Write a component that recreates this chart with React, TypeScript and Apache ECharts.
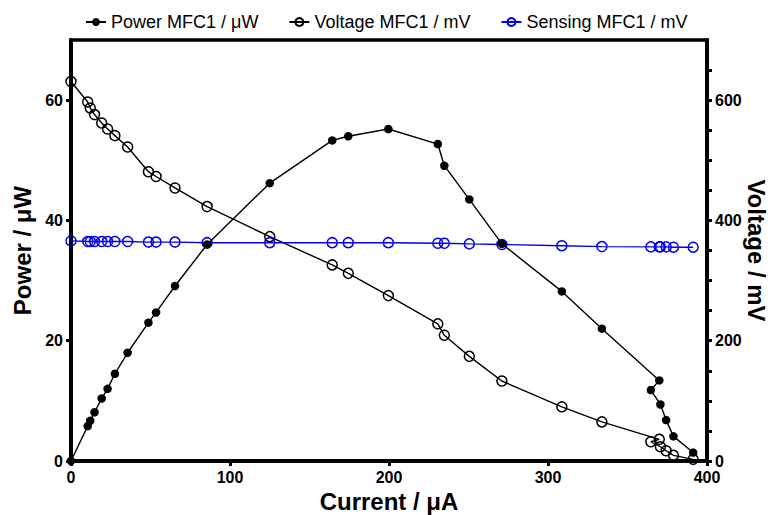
import React, { useEffect, useRef } from "react";
import * as echarts from "echarts";

const current = [0, 10.5, 12.1, 14.8, 19.3, 23.0, 27.6, 35.6, 48.7, 53.5, 65.4, 85.6, 125.0, 164.3, 174.4, 199.6, 230.7, 234.8, 250.5, 271.0, 308.7, 333.9, 370.0, 364.7, 370.7, 374.3, 378.9, 391.3];
const powerMFC1 = [0, 5.8, 6.7, 8.1, 10.4, 12.0, 14.5, 18.0, 23.0, 24.7, 29.1, 36.0, 46.2, 53.3, 54.0, 55.2, 52.7, 49.1, 43.5, 36.1, 28.2, 22.0, 13.4, 11.8, 9.4, 6.8, 4.1, 1.4];
const voltageMFC1 = [631, 597, 587, 576, 562, 552, 541, 522, 481, 473, 454, 423, 373, 326, 312, 275, 228, 209, 174, 133, 90, 65, 36, 32, 23.7, 17, 9.4, 2.8];
const sensingMFC1 = [366, 365, 365, 365, 365, 365, 365, 365, 364, 364, 364, 363, 363, 363, 363, 363, 362, 362, 361, 360, 358, 356.5, 356, 356, 356, 356, 355.5, 355.5];

const xTicks = [0, 100, 200, 300, 400];
const leftTicks = [0, 20, 40, 60];
const rightTicks = [0, 50, 100, 150, 200, 250, 300, 350, 400, 450, 500, 550, 600, 650];
const rightLabels = [0, 200, 400, 600];

const FONT = "'Liberation Sans', Arial, sans-serif";

export default function App() {
  const ref = useRef<HTMLDivElement>(null);
  useEffect(() => {
    if (!ref.current) return;
    const chart = echarts.init(ref.current, null, { renderer: "svg" });
    const pair = (ys: number[]) => current.map((x, i) => [x, ys[i]]);
    const labelStyle = { color: "#000", fontFamily: FONT, fontWeight: "bold" as const, fontSize: 16 };
    const nameStyle = { color: "#000", fontFamily: FONT, fontWeight: "bold" as const, fontSize: 24 };
    chart.setOption({
      animation: false,
      backgroundColor: "#fff",
      legend: {
        top: 8,
        left: 80,
        itemGap: 30,
        itemWidth: 20,
        itemHeight: 10,
        textStyle: { color: "#000", fontFamily: FONT, fontSize: 18 },
        data: ["Power MFC1 / μW", "Voltage MFC1 / mV", "Sensing MFC1 / mV"],
      },
      grid: {
        left: 71,
        right: 66,
        top: 40,
        bottom: 54,
        show: true,
        borderColor: "#000",
        borderWidth: 3.5,
        containLabel: false,
        outerBoundsMode: "none",
      },
      xAxis: {
        type: "value",
        min: 0,
        max: 400,
        interval: 100,
        name: "Current / μA",
        nameLocation: "middle",
        nameGap: 24,
        nameTextStyle: { ...nameStyle, verticalAlign: "top" },
        axisLine: { show: true, lineStyle: { color: "#000", width: 4 } },
        axisTick: { show: true, length: 5, lineStyle: { color: "#000", width: 3 }, customValues: xTicks },
        axisLabel: { ...labelStyle, margin: 8, customValues: xTicks },
        splitLine: { show: false },
      },
      yAxis: [
        {
          type: "value",
          min: 0,
          max: 70,
          name: "Power / μW",
          nameLocation: "middle",
          nameGap: 35,
          nameTextStyle: nameStyle,
          axisLine: { show: true, lineStyle: { color: "#000", width: 4 } },
          axisTick: { show: true, length: 5, lineStyle: { color: "#000", width: 3 }, customValues: leftTicks },
          axisLabel: { ...labelStyle, margin: 8, customValues: leftTicks },
          splitLine: { show: false },
        },
        {
          type: "value",
          min: 0,
          max: 700,
          position: "right",
          name: "Voltage / mV",
          nameLocation: "middle",
          nameRotate: -90,
          nameGap: 49,
          nameMoveOverlap: false,
          nameTextStyle: { ...nameStyle, verticalAlign: "middle" },
          axisLine: { show: true, lineStyle: { color: "#000", width: 4 } },
          axisTick: { show: true, length: 5, lineStyle: { color: "#000", width: 3 }, customValues: rightTicks },
          axisLabel: { ...labelStyle, margin: 8, customValues: rightLabels },
          splitLine: { show: false },
        },
      ],
      series: [
        {
          name: "Power MFC1 / μW",
          type: "line",
          yAxisIndex: 0,
          data: pair(powerMFC1),
          symbol: "circle",
          symbolSize: 8.5,
          itemStyle: { color: "#000" },
          lineStyle: { color: "#000", width: 1.4 },
          z: 3,
        },
        {
          name: "Voltage MFC1 / mV",
          type: "line",
          yAxisIndex: 1,
          data: pair(voltageMFC1),
          symbol: "circle",
          symbolSize: 10,
          itemStyle: { color: "rgba(255,255,255,0)", borderColor: "#000", borderWidth: 1.5 },
          lineStyle: { color: "#000", width: 1.4 },
          z: 2,
        },
        {
          name: "Sensing MFC1 / mV",
          type: "line",
          yAxisIndex: 1,
          data: pair(sensingMFC1),
          symbol: "circle",
          symbolSize: 10,
          itemStyle: { color: "rgba(255,255,255,0)", borderColor: "#0000ee", borderWidth: 1.5 },
          lineStyle: { color: "#0000ee", width: 1.4 },
          z: 2,
        },
      ],
    });
    return () => chart.dispose();
  }, []);
  return <div ref={ref} style={{ width: 773, height: 515, position: "absolute", left: 0, top: 0 }} />;
}
